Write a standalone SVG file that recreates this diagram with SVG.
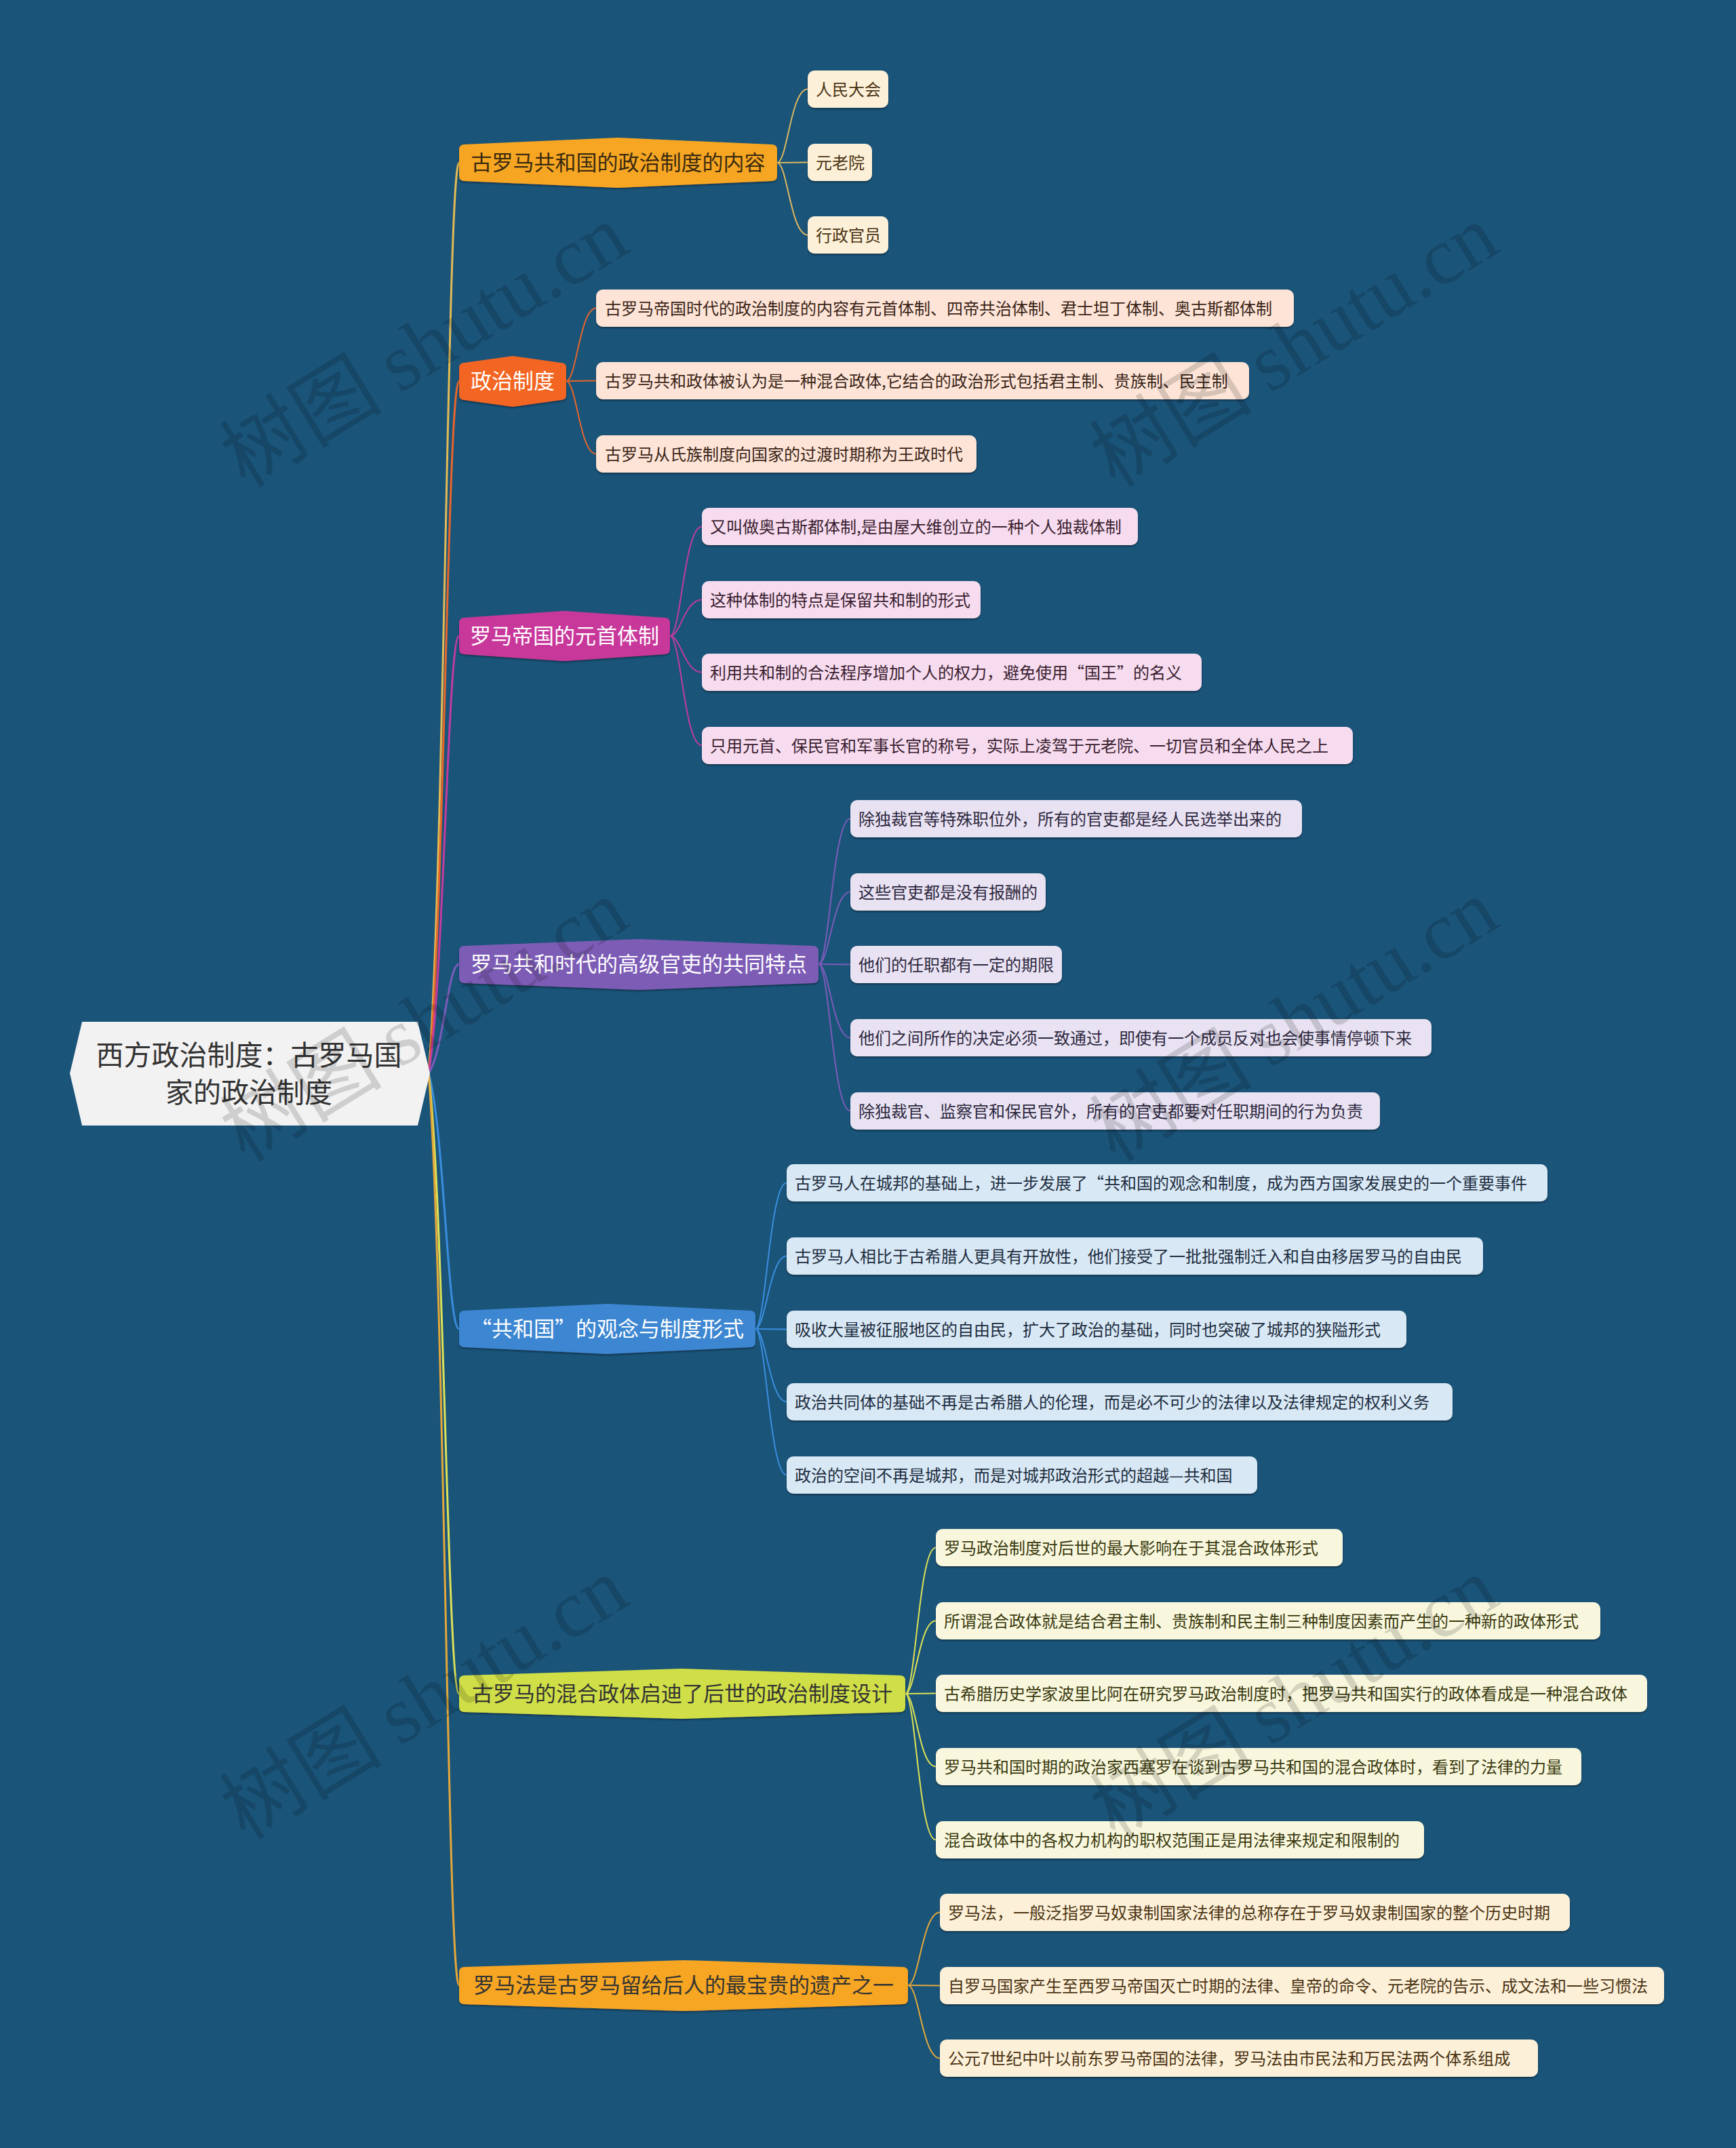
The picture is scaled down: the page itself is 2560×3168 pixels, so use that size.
<svg xmlns="http://www.w3.org/2000/svg" width="2560" height="3168" viewBox="0 0 2560 3168">
<defs>
<filter id="sh" x="-5%" y="-20%" width="110%" height="150%">
<feDropShadow dx="0" dy="2" stdDeviation="1" flood-color="#07263c" flood-opacity="0.7"/>
</filter>
<style>
text{font-family:"Noto Sans CJK SC","Liberation Sans",sans-serif;}
.root{font-size:41px;fill:#333333;text-anchor:middle;}
.bt{font-size:31px;text-anchor:middle;}
.ct{font-size:24px;}
.wm{font-size:120px;fill:#000000;fill-opacity:0.15;text-anchor:middle;}
.wm tspan.en{font-family:"Liberation Serif","DejaVu Serif",serif;}
.lk{fill:none;stroke-width:3;stroke-linecap:round;}
.lc{fill:none;stroke-width:2;stroke-linecap:round;}
.box{filter:url(#sh);}
</style>
</defs>
<rect x="0" y="0" width="2560" height="3168" fill="#1a5479"/>

<g id="connectors">
<path class="lk" stroke="#e3bb55" d="M632,1583 C655,1301 660,240 677,240"/>
<path class="lk" stroke="#e8652a" d="M632,1583 C655,1369 660,562 677,562"/>
<path class="lk" stroke="#c23c9e" d="M632,1583 C655,1448 660,938 677,938"/>
<path class="lk" stroke="#7b5cb8" d="M632,1583 C655,1549 660,1422 677,1422"/>
<path class="lk" stroke="#3a8ede" d="M632,1583 C655,1662 660,1960 677,1960"/>
<path class="lk" stroke="#dde256" d="M632,1583 C655,1775 660,2498 677,2498"/>
<path class="lk" stroke="#e4a83a" d="M632,1583 C655,1865 660,2928 677,2928"/>

<path class="lc" stroke="#dcb760" d="M1146,240 C1161,240 1166,131.5 1191,131.5"/>
<path class="lc" stroke="#dcb760" d="M1146,240 L1191,239.5"/>
<path class="lc" stroke="#dcb760" d="M1146,240 C1161,240 1166,346.5 1191,346.5"/>

<path class="lc" stroke="#e8652a" d="M835,562 C850,562 855,454.5 879,454.5"/>
<path class="lc" stroke="#e8652a" d="M835,562 L879,561.5"/>
<path class="lc" stroke="#e8652a" d="M835,562 C850,562 855,669.5 879,669.5"/>

<path class="lc" stroke="#c23c9e" d="M988,938 C1004,938 1009,776.5 1035,776.5"/>
<path class="lc" stroke="#c23c9e" d="M988,938 C1004,938 1009,884.5 1035,884.5"/>
<path class="lc" stroke="#c23c9e" d="M988,938 C1004,938 1009,991.5 1035,991.5"/>
<path class="lc" stroke="#c23c9e" d="M988,938 C1004,938 1009,1099.5 1035,1099.5"/>

<path class="lc" stroke="#7b5cb8" d="M1207,1422 C1223,1422 1228,1207.5 1254,1207.5"/>
<path class="lc" stroke="#7b5cb8" d="M1207,1422 C1223,1422 1228,1315.5 1254,1315.5"/>
<path class="lc" stroke="#7b5cb8" d="M1207,1422 L1254,1422.5"/>
<path class="lc" stroke="#7b5cb8" d="M1207,1422 C1223,1422 1228,1530.5 1254,1530.5"/>
<path class="lc" stroke="#7b5cb8" d="M1207,1422 C1223,1422 1228,1638.5 1254,1638.5"/>

<path class="lc" stroke="#3a8ede" d="M1114,1960 C1129,1960 1135,1744.5 1160,1744.5"/>
<path class="lc" stroke="#3a8ede" d="M1114,1960 C1129,1960 1135,1852.5 1160,1852.5"/>
<path class="lc" stroke="#3a8ede" d="M1114,1960 L1160,1960.5"/>
<path class="lc" stroke="#3a8ede" d="M1114,1960 C1129,1960 1135,2067.5 1160,2067.5"/>
<path class="lc" stroke="#3a8ede" d="M1114,1960 C1129,1960 1135,2175.5 1160,2175.5"/>

<path class="lc" stroke="#dde256" d="M1335,2498 C1350,2498 1355,2282.5 1380,2282.5"/>
<path class="lc" stroke="#dde256" d="M1335,2498 C1350,2498 1355,2390.5 1380,2390.5"/>
<path class="lc" stroke="#dde256" d="M1335,2498 L1380,2497.5"/>
<path class="lc" stroke="#dde256" d="M1335,2498 C1350,2498 1355,2605.5 1380,2605.5"/>
<path class="lc" stroke="#dde256" d="M1335,2498 C1350,2498 1355,2713.5 1380,2713.5"/>

<path class="lc" stroke="#e4a83a" d="M1339,2928 C1355,2928 1360,2820.5 1386,2820.5"/>
<path class="lc" stroke="#e4a83a" d="M1339,2928 L1386,2928.5"/>
<path class="lc" stroke="#e4a83a" d="M1339,2928 C1355,2928 1360,3035.5 1386,3035.5"/>
</g>

<g id="root">
<polygon points="121,1507 616,1507 634,1583 616,1660 121,1660 103,1583" fill="#f2f2f2"/>
<text class="root" x="367" y="1571">西方政治制度：古罗马国</text>
<text class="root" x="367" y="1626">家的政治制度</text>
</g>

<g id="b1">
<path class="box" fill="#f6a623" d="M677,221 Q677,213 685,213 L911.5,203 L1138,213 Q1146,213 1146,221 L1146,259 Q1146,267 1138,267 L911.5,277 L685,267 Q677,267 677,259 Z"/>
<text class="bt" x="911.5" y="251" fill="#3a2a10">古罗马共和国的政治制度的内容</text>
</g>
<g id="b1c1"><rect class="box" x="1191" y="104" width="119" height="55" rx="10" fill="#fdf0d8"/><text class="ct" x="1203" y="140.5" fill="#4a3414">人民大会</text></g>
<g id="b1c2"><rect class="box" x="1191" y="212" width="95" height="55" rx="10" fill="#fdf0d8"/><text class="ct" x="1203" y="248.5" fill="#4a3414">元老院</text></g>
<g id="b1c3"><rect class="box" x="1191" y="319" width="119" height="55" rx="10" fill="#fdf0d8"/><text class="ct" x="1203" y="355.5" fill="#4a3414">行政官员</text></g>

<g id="b2">
<path class="box" fill="#f36523" d="M677,543 Q677,535 685,535 L756,525 L827,535 Q835,535 835,543 L835,582 Q835,590 827,590 L756,600 L685,590 Q677,590 677,582 Z"/>
<text class="bt" x="756" y="573" fill="#ffffff">政治制度</text>
</g>
<g id="b2c1"><rect class="box" x="879" y="427" width="1029" height="55" rx="10" fill="#fde4d6"/><text class="ct" x="892" y="463.5" fill="#3a2418">古罗马帝国时代的政治制度的内容有元首体制、四帝共治体制、君士坦丁体制、奥古斯都体制</text></g>
<g id="b2c2"><rect class="box" x="879" y="534" width="963" height="55" rx="10" fill="#fde4d6"/><text class="ct" x="892" y="570.5" fill="#3a2418">古罗马共和政体被认为是一种混合政体,它结合的政治形式包括君主制、贵族制、民主制</text></g>
<g id="b2c3"><rect class="box" x="879" y="642" width="561" height="55" rx="10" fill="#fde4d6"/><text class="ct" x="892" y="678.5" fill="#3a2418">古罗马从氏族制度向国家的过渡时期称为王政时代</text></g>

<g id="b3">
<path class="box" fill="#c8379b" d="M677,919 Q677,911 685,911 L832.5,901 L980,911 Q988,911 988,919 L988,957 Q988,965 980,965 L832.5,975 L685,965 Q677,965 677,957 Z"/>
<text class="bt" x="832.5" y="949" fill="#ffffff">罗马帝国的元首体制</text>
</g>
<g id="b3c1"><rect class="box" x="1035" y="749" width="643" height="55" rx="10" fill="#f6dcee"/><text class="ct" x="1047" y="785.5" fill="#3a2030">又叫做奥古斯都体制,是由屋大维创立的一种个人独裁体制</text></g>
<g id="b3c2"><rect class="box" x="1035" y="857" width="411" height="55" rx="10" fill="#f6dcee"/><text class="ct" x="1047" y="893.5" fill="#3a2030">这种体制的特点是保留共和制的形式</text></g>
<g id="b3c3"><rect class="box" x="1035" y="964" width="737" height="55" rx="10" fill="#f6dcee"/><text class="ct" x="1047" y="1000.5" fill="#3a2030">利用共和制的合法程序增加个人的权力，避免使用“国王”的名义</text></g>
<g id="b3c4"><rect class="box" x="1035" y="1072" width="960" height="55" rx="10" fill="#f6dcee"/><text class="ct" x="1047" y="1108.5" fill="#3a2030">只用元首、保民官和军事长官的称号，实际上凌驾于元老院、一切官员和全体人民之上</text></g>

<g id="b4">
<path class="box" fill="#7d5bb6" d="M677,1403 Q677,1395 685,1395 L942,1385 L1199,1395 Q1207,1395 1207,1403 L1207,1442 Q1207,1450 1199,1450 L942,1460 L685,1450 Q677,1450 677,1442 Z"/>
<text class="bt" x="942" y="1433" fill="#ffffff">罗马共和时代的高级官吏的共同特点</text>
</g>
<g id="b4c1"><rect class="box" x="1254" y="1180" width="666" height="55" rx="10" fill="#e8e2f2"/><text class="ct" x="1266" y="1216.5" fill="#2e2840">除独裁官等特殊职位外，所有的官吏都是经人民选举出来的</text></g>
<g id="b4c2"><rect class="box" x="1254" y="1288" width="288" height="55" rx="10" fill="#e8e2f2"/><text class="ct" x="1266" y="1324.5" fill="#2e2840">这些官吏都是没有报酬的</text></g>
<g id="b4c3"><rect class="box" x="1254" y="1395" width="312" height="55" rx="10" fill="#e8e2f2"/><text class="ct" x="1266" y="1431.5" fill="#2e2840">他们的任职都有一定的期限</text></g>
<g id="b4c4"><rect class="box" x="1254" y="1503" width="857" height="55" rx="10" fill="#e8e2f2"/><text class="ct" x="1266" y="1539.5" fill="#2e2840">他们之间所作的决定必须一致通过，即使有一个成员反对也会使事情停顿下来</text></g>
<g id="b4c5"><rect class="box" x="1254" y="1611" width="781" height="55" rx="10" fill="#e8e2f2"/><text class="ct" x="1266" y="1647.5" fill="#2e2840">除独裁官、监察官和保民官外，所有的官吏都要对任职期间的行为负责</text></g>

<g id="b5">
<path class="box" fill="#3d87d2" d="M677,1941 Q677,1933 685,1933 L895.5,1923 L1106,1933 Q1114,1933 1114,1941 L1114,1979 Q1114,1987 1106,1987 L895.5,1997 L685,1987 Q677,1987 677,1979 Z"/>
<text class="bt" x="895.5" y="1971" fill="#ffffff">“共和国”的观念与制度形式</text>
</g>
<g id="b5c1"><rect class="box" x="1160" y="1717" width="1122" height="55" rx="10" fill="#d8e8f5"/><text class="ct" x="1172" y="1753.5" fill="#1e2e40">古罗马人在城邦的基础上，进一步发展了“共和国的观念和制度，成为西方国家发展史的一个重要事件</text></g>
<g id="b5c2"><rect class="box" x="1160" y="1825" width="1027" height="55" rx="10" fill="#d8e8f5"/><text class="ct" x="1172" y="1861.5" fill="#1e2e40">古罗马人相比于古希腊人更具有开放性，他们接受了一批批强制迁入和自由移居罗马的自由民</text></g>
<g id="b5c3"><rect class="box" x="1160" y="1933" width="914" height="55" rx="10" fill="#d8e8f5"/><text class="ct" x="1172" y="1969.5" fill="#1e2e40">吸收大量被征服地区的自由民，扩大了政治的基础，同时也突破了城邦的狭隘形式</text></g>
<g id="b5c4"><rect class="box" x="1160" y="2040" width="982" height="55" rx="10" fill="#d8e8f5"/><text class="ct" x="1172" y="2076.5" fill="#1e2e40">政治共同体的基础不再是古希腊人的伦理，而是必不可少的法律以及法律规定的权利义务</text></g>
<g id="b5c5"><rect class="box" x="1160" y="2148" width="694" height="55" rx="10" fill="#d8e8f5"/><text class="ct" x="1172" y="2184.5" fill="#1e2e40">政治的空间不再是城邦，而是对城邦政治形式的超越—共和国</text></g>

<g id="b6">
<path class="box" fill="#d0df47" d="M677,2479 Q677,2471 685,2471 L1006,2461 L1327,2471 Q1335,2471 1335,2479 L1335,2517 Q1335,2525 1327,2525 L1006,2535 L685,2525 Q677,2525 677,2517 Z"/>
<text class="bt" x="1006" y="2509" fill="#333333">古罗马的混合政体启迪了后世的政治制度设计</text>
</g>
<g id="b6c1"><rect class="box" x="1380" y="2255" width="600" height="55" rx="10" fill="#f8f7dd"/><text class="ct" x="1392" y="2291.5" fill="#3a3a10">罗马政治制度对后世的最大影响在于其混合政体形式</text></g>
<g id="b6c2"><rect class="box" x="1380" y="2363" width="980" height="55" rx="10" fill="#f8f7dd"/><text class="ct" x="1392" y="2399.5" fill="#3a3a10">所谓混合政体就是结合君主制、贵族制和民主制三种制度因素而产生的一种新的政体形式</text></g>
<g id="b6c3"><rect class="box" x="1380" y="2470" width="1049" height="55" rx="10" fill="#f8f7dd"/><text class="ct" x="1392" y="2506.5" fill="#3a3a10">古希腊历史学家波里比阿在研究罗马政治制度时，把罗马共和国实行的政体看成是一种混合政体</text></g>
<g id="b6c4"><rect class="box" x="1380" y="2578" width="952" height="55" rx="10" fill="#f8f7dd"/><text class="ct" x="1392" y="2614.5" fill="#3a3a10">罗马共和国时期的政治家西塞罗在谈到古罗马共和国的混合政体时，看到了法律的力量</text></g>
<g id="b6c5"><rect class="box" x="1380" y="2686" width="720" height="55" rx="10" fill="#f8f7dd"/><text class="ct" x="1392" y="2722.5" fill="#3a3a10">混合政体中的各权力机构的职权范围正是用法律来规定和限制的</text></g>

<g id="b7">
<path class="box" fill="#f6a623" d="M677,2909 Q677,2901 685,2901 L1008,2891 L1331,2901 Q1339,2901 1339,2909 L1339,2948 Q1339,2956 1331,2956 L1008,2966 L685,2956 Q677,2956 677,2948 Z"/>
<text class="bt" x="1008" y="2939" fill="#333333">罗马法是古罗马留给后人的最宝贵的遗产之一</text>
</g>
<g id="b7c1"><rect class="box" x="1386" y="2793" width="929" height="55" rx="10" fill="#fdf0d8"/><text class="ct" x="1398" y="2829.5" fill="#4a3414">罗马法，一般泛指罗马奴隶制国家法律的总称存在于罗马奴隶制国家的整个历史时期</text></g>
<g id="b7c2"><rect class="box" x="1386" y="2901" width="1068" height="55" rx="10" fill="#fdf0d8"/><text class="ct" x="1398" y="2937.5" fill="#4a3414">自罗马国家产生至西罗马帝国灭亡时期的法律、皇帝的命令、元老院的告示、成文法和一些习惯法</text></g>
<g id="b7c3"><rect class="box" x="1386" y="3008" width="882" height="55" rx="10" fill="#fdf0d8"/><text class="ct" x="1398" y="3044.5" fill="#4a3414">公元7世纪中叶以前东罗马帝国的法律，罗马法由市民法和万民法两个体系组成</text></g>

<g id="watermark">
<text class="wm" transform="translate(647,545) rotate(-31.6)">树图 <tspan class="en">shutu.cn</tspan></text>
<text class="wm" transform="translate(1930,545) rotate(-31.6)">树图 <tspan class="en">shutu.cn</tspan></text>
<text class="wm" transform="translate(647,1540) rotate(-31.6)">树图 <tspan class="en">shutu.cn</tspan></text>
<text class="wm" transform="translate(1930,1540) rotate(-31.6)">树图 <tspan class="en">shutu.cn</tspan></text>
<text class="wm" transform="translate(647,2540) rotate(-31.6)">树图 <tspan class="en">shutu.cn</tspan></text>
<text class="wm" transform="translate(1930,2540) rotate(-31.6)">树图 <tspan class="en">shutu.cn</tspan></text>
</g>
</svg>
